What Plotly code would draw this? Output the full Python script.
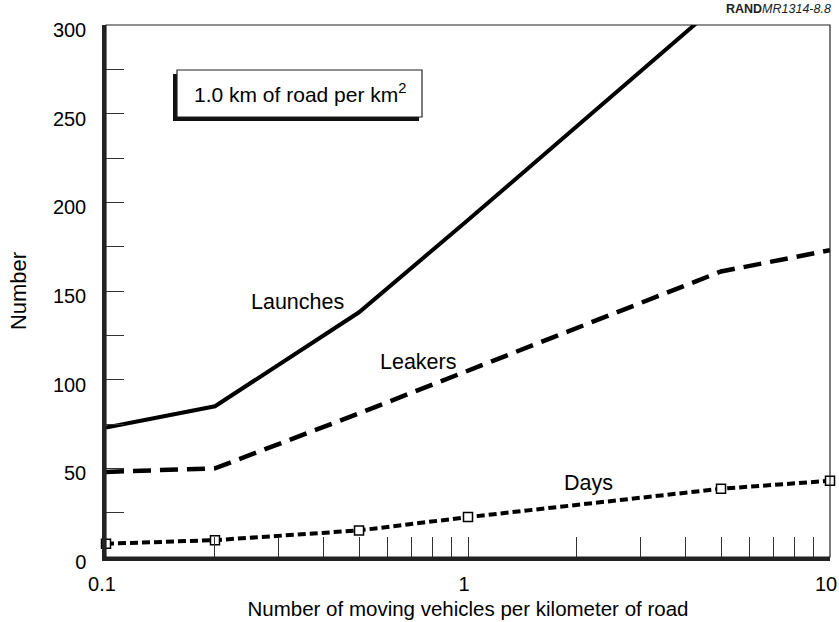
import numpy as np
import plotly.graph_objects as go

# Vehicle density (moving vehicles per km of road)
density = [0.1, 0.2, 0.5, 1, 5, 10]
launches = [73, 85, 138, 190, 313, 335]
leakers = [48, 50, 81, 105, 161, 173]
days = [7.5, 9.5, 15, 22.5, 38.5, 43]

x_tickvals = [0.1, 0.2, 0.3, 0.4, 0.5, 0.6, 0.7, 0.8, 0.9,
              1, 2, 3, 4, 5, 6, 7, 8, 9, 10]
x_ticktext = ["0.1", "", "", "", "", "", "", "", "",
              "1", "", "", "", "", "", "", "", "", "10"]
y_tickvals = list(range(0, 301, 25))
y_ticktext = [str(v) if v % 50 == 0 else "" for v in y_tickvals]

FONT = "Liberation Sans, Arial, Helvetica, sans-serif"

fig = go.Figure()

fig.add_trace(go.Scatter(
    x=density, y=launches, mode="lines",
    line=dict(color="black", width=4), showlegend=False))
fig.add_trace(go.Scatter(
    x=density, y=leakers, mode="lines",
    line=dict(color="black", width=4.5, dash="18px,9px"), showlegend=False))
fig.add_trace(go.Scatter(
    x=density, y=days, mode="lines+markers", cliponaxis=False,
    line=dict(color="black", width=4, dash="8px,4px"),
    marker=dict(symbol="square", size=9, color="white",
                line=dict(color="black", width=1.5)),
    showlegend=False))

# Curve labels
curve_labels = [("Launches", 0.337, 144), ("Leakers", 0.732, 110), ("Days", 2.15, 41.7)]
for text, xv, yv in curve_labels:
    fig.add_annotation(x=np.log10(xv), y=yv, text=text, showarrow=False,
                       xanchor="center", yanchor="middle",
                       font=dict(family=FONT, size=21.5, color="black"))

W, H = 839, 622
L, R, T, B = 106, 9, 25, 65
pw, ph = W - L - R, H - T - B


def px(xp):
    return (xp - L) / pw


def py(yp):
    return (H - B - yp) / ph


shapes = [
    # thin frame on top and right
    dict(type="rect", xref="paper", yref="paper", x0=0, x1=1, y0=0, y1=1,
         line=dict(color="#222", width=1.2), layer="above"),
    # drop shadow of the caption box
    dict(type="rect", xref="paper", yref="paper",
         x0=px(173), x1=px(419), y0=py(121), y1=py(74),
         fillcolor="#111", line=dict(width=0), layer="above"),
    # caption box
    dict(type="rect", xref="paper", yref="paper",
         x0=px(177), x1=px(422), y0=py(117), y1=py(70),
         fillcolor="white", line=dict(color="#222", width=1.2), layer="above"),
]

fig.add_annotation(xref="paper", yref="paper", x=px(299.5), y=py(93),
                   xanchor="center", yanchor="middle",
                   text="1.0 km of road per km<sup>2</sup>", showarrow=False,
                   font=dict(family=FONT, size=21, color="black"))

fig.add_annotation(xref="paper", yref="paper", x=px(833), y=py(9),
                   xanchor="right", yanchor="middle",
                   text="<b>RAND</b><i>MR1314-8.8</i>", showarrow=False,
                   font=dict(family=FONT, size=12.5, color="#222"))

fig.update_layout(
    width=W, height=H,
    margin=dict(l=L, r=R, t=T, b=B),
    paper_bgcolor="white", plot_bgcolor="white",
    font=dict(family=FONT, color="black"),
    shapes=shapes,
    xaxis=dict(
        type="log", range=[-1.00001, 1.00001], automargin=False,
        tickvals=x_tickvals, ticktext=x_ticktext,
        ticks="inside", ticklen=20, tickwidth=1.3, tickcolor="#333",
        showline=True, linecolor="#222", linewidth=3.5,
        showgrid=False, zeroline=False,
        tickfont=dict(size=20), ticklabelstandoff=6,
        ticklabelshift=-4, ticklabeloverflow="allow",
        title=dict(text="Number of moving vehicles per kilometer of road",
                   font=dict(size=20.5), standoff=9),
    ),
    yaxis=dict(
        range=[0, 300], automargin=False,
        tickvals=y_tickvals, ticktext=y_ticktext,
        ticks="inside", ticklen=18, tickwidth=1.3, tickcolor="#333",
        showline=True, linecolor="#222", linewidth=3.5,
        showgrid=False, zeroline=False,
        tickfont=dict(size=20), ticklabelstandoff=12,
        ticklabelshift=5, ticklabeloverflow="allow",
        title=dict(text="Number", font=dict(size=22), standoff=21),
    ),
)

fig.write_html("out.html")
